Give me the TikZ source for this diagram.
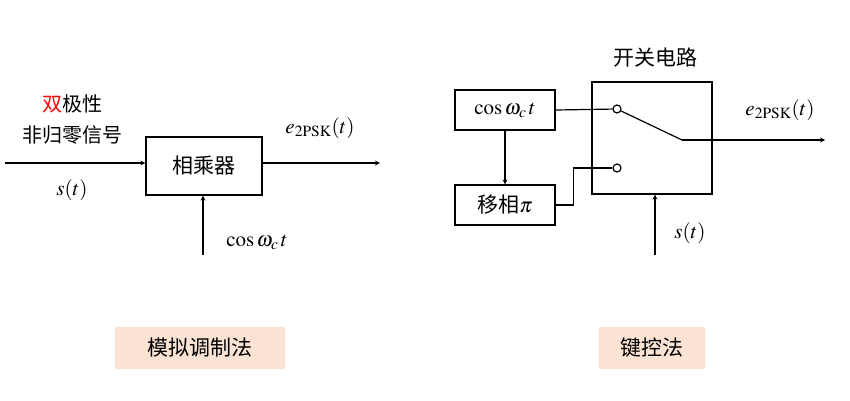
\documentclass[tikz,border=0pt]{standalone}
\usepackage{mathptmx}
\usepackage{fontspec}
\setmainfont{Liberation Serif}
\newfontfamily\cjk{Noto Sans CJK SC}
\usetikzlibrary{positioning}
\definecolor{tagfill}{HTML}{FBE3D4}
\begin{document}
\begin{tikzpicture}[x=1pt, y=-1pt, >=stealth, line width=1.2pt,
    blk/.style={draw, minimum height=40pt, inner sep=0pt, font=\cjk\fontsize{21}{23}\selectfont},
    tag/.style={fill=tagfill, minimum width=170pt, minimum height=42pt, font=\cjk\fontsize{21}{23}\selectfont},
    lab/.style={font=\fontsize{21}{23}\selectfont},
    pin/.style={circle, draw, fill=white, inner sep=0pt, minimum size=8pt}]
  \useasboundingbox (0,0) rectangle (850,400);
  % left: analog modulation
  \node[blk, minimum width=116pt, minimum height=58pt] (mul) at (204,166) {相乘器};
  \coordinate (in) at (5,163);
  \coordinate (out) at (380,163);
  \coordinate (car) at (203,255);
  \draw[->] (in) -- (in -| mul.west);
  \draw[->] (out -| mul.east) -- (out);
  \draw[->] (car) -- (mul.south -| car);
  \node[lab, font=\cjk\fontsize{20}{22}\selectfont] (bi) at (72,104) {\textcolor{red}{双}极性};
  \node[lab, font=\cjk\fontsize{20}{22}\selectfont] (nrz) at (72,135) {非归零信号};
  \node[lab] (st1) at (72,190) {$s(t)$};
  \node[lab] (e1) at (320,128) {$e_{\mathrm{2PSK}}(t)$};
  \node[lab] (c1) at (257,242) {$\cos\omega_c\, t$};
  \node[tag] (t1) at (200,348) {模拟调制法};
  % right: keying
  \node[blk, minimum width=100pt] (osc) at (505,110) {$\cos\omega_c\, t$};
  \node[blk, minimum width=100pt] (ph) at (505,205) {移相$\pi$};
  \node[draw, minimum width=120pt, minimum height=112pt] (sw) at (652,138) {};
  \node[lab, font=\cjk\fontsize{21}{23}\selectfont] (swt) at (655,58) {开关电路};
  \node[pin] (p1) at (617,109) {};
  \node[pin] (p2) at (617,168) {};
  \coordinate (arm) at (682,140);
  \coordinate (out2) at (825,140);
  \coordinate (sin) at (655,255);
  \draw[->] (osc) -- (ph);
  \draw (osc.east) -- (p1);
  \draw (ph.east) -- ++(18,0) |- (p2);
  \draw (p1) -- (arm);
  \draw[->] (arm) -- (out2);
  \draw[->] (sin) -- (sw.south -| sin);
  \node[lab] (e2) at (780,110) {$e_{\mathrm{2PSK}}(t)$};
  \node[lab] (st2) at (690,233) {$s(t)$};
  \node[tag, minimum width=106pt] (t2) at (652,348) {键控法};
\end{tikzpicture}
\end{document}
